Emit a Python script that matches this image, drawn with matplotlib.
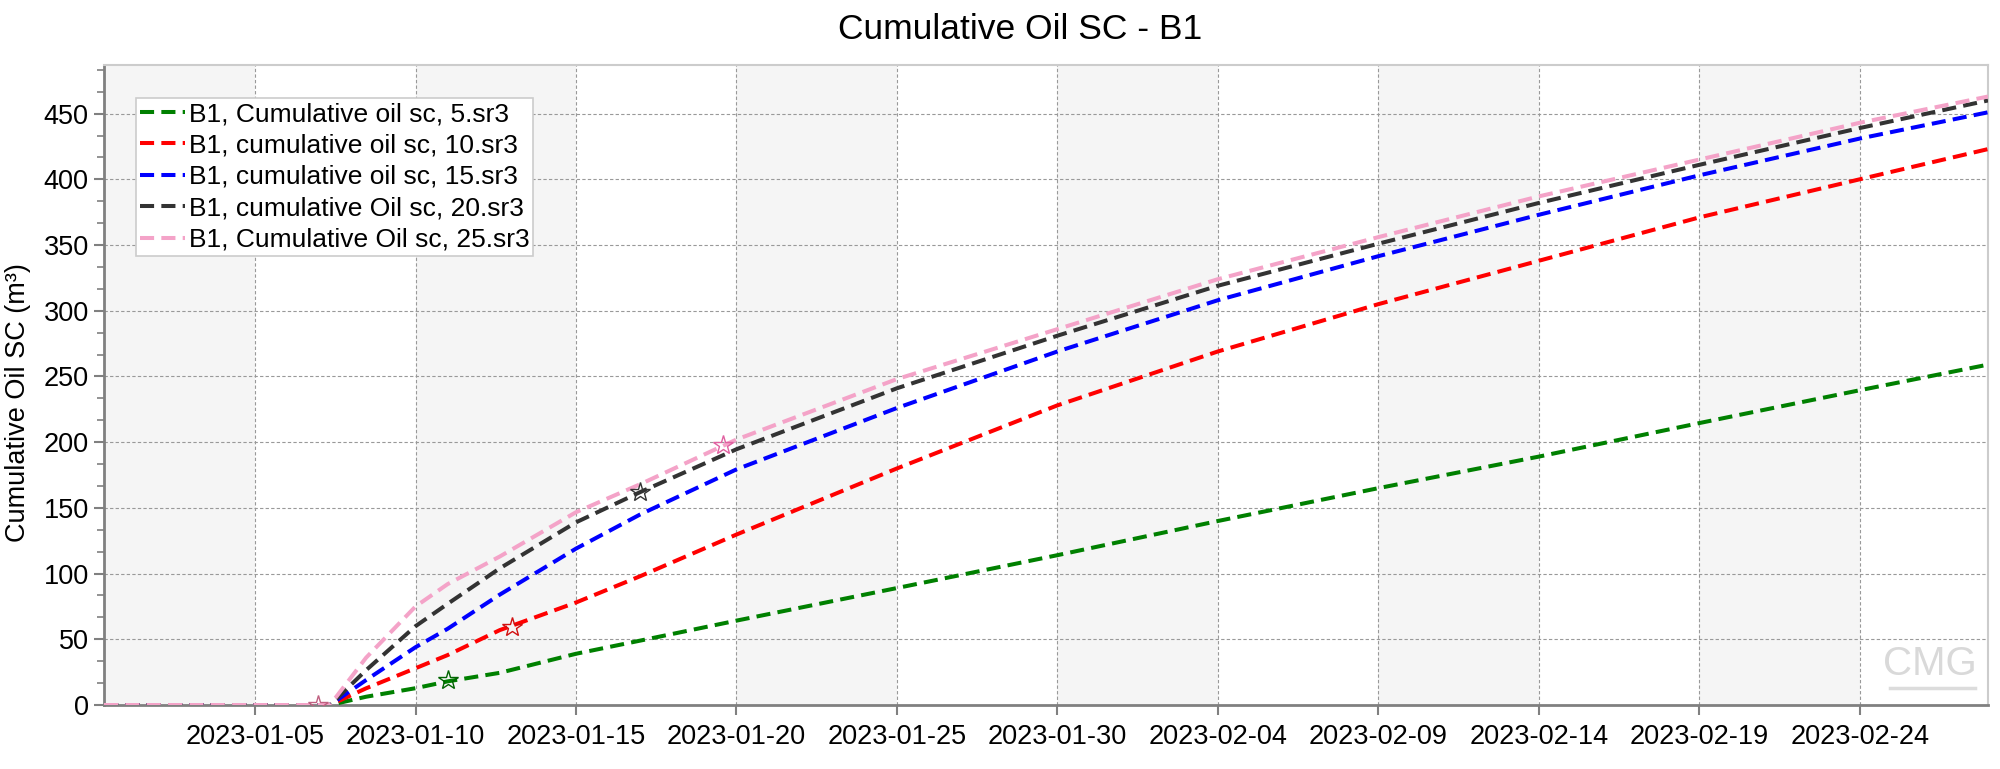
import matplotlib.pyplot as plt
import matplotlib.dates as mdates
import matplotlib.ticker as mticker
import pandas as pd

plt.rcParams['font.family'] = ['Liberation Sans', 'DejaVu Sans']

# shared time axis
dates = ['2022-12-31 07:00', '2023-01-07 08:00', '2023-01-08 11:00', '2023-01-10',
         '2023-01-11', '2023-01-12 15:00', '2023-01-15', '2023-01-17', '2023-01-20',
         '2023-01-25', '2023-01-30', '2023-02-04', '2023-02-09', '2023-02-14',
         '2023-02-19', '2023-02-24', '2023-02-28']

oil_5 = [0, 0, 6.3, 12.8, 18, 24.5, 39, 49, 64.2, 89, 114, 140, 165, 189, 214.5, 239.5, 259]
oil_10 = [0, 0, 12.7, 28, 38, 57, 78, 98, 129.7, 180, 228, 269, 305, 338, 371, 400, 423]
oil_15 = [0, 0, 19, 44, 58, 84, 119, 145, 179.3, 226, 269, 308, 341.5, 373, 403, 431, 451]
oil_20 = [0, 0, 26.5, 60, 77, 104, 139, 162, 194.6, 241, 281, 319, 351, 382, 411, 439, 460]
oil_25 = [0, 0, 36, 75, 92, 113, 146.7, 168, 202, 248, 286, 324, 356, 387, 415, 443, 463]

labels = ['B1, Cumulative oil sc, 5.sr3', 'B1, cumulative oil sc, 10.sr3',
          'B1, cumulative oil sc, 15.sr3', 'B1, cumulative Oil sc, 20.sr3',
          'B1, Cumulative Oil sc, 25.sr3']
colors = ['#008000', '#ff0000', '#0000ff', '#333333', '#f4a3c8']

# star markers (date, value, edge colour)
star_dates = ['2023-01-11', '2023-01-13', '2023-01-06 23:00', '2023-01-17', '2023-01-19 14:00']
star_vals = [19, 59, 0, 162, 198]
star_edge = ['#006400', '#d01010', '#c06080', '#333333', '#e060a0']

# alternating background bands
bands = [('2022-12-31 07:00', '2023-01-05'), ('2023-01-10', '2023-01-15'),
         ('2023-01-20', '2023-01-25'), ('2023-01-30', '2023-02-04'),
         ('2023-02-09', '2023-02-14'), ('2023-02-19', '2023-02-24')]

tick_dates = pd.date_range('2023-01-05', '2023-02-24', freq='5D')

t = pd.to_datetime(dates, format='mixed')

fig = plt.figure(figsize=(20, 7.69), dpi=100)
ax = fig.add_axes([0.052, 0.0832, 0.942, 0.8323])

for a, b in bands:
    ax.axvspan(pd.Timestamp(a), pd.Timestamp(b), color='#f5f5f5', lw=0, zorder=0)

series = [oil_5, oil_10, oil_15, oil_20, oil_25]
for vals, lab, c in zip(series, labels, colors):
    ax.plot(t, vals, color=c, lw=2.9, dashes=(3.5, 1.8), label=lab, zorder=3)

for d, v, ec in zip(star_dates, star_vals, star_edge):
    ax.plot(pd.Timestamp(d), v, marker='*', ms=15, mfc='none', mec=ec, mew=1.0, zorder=4)

ax.set_xlim(pd.Timestamp('2022-12-31 07:00'), pd.Timestamp('2023-02-28'))
ax.set_ylim(0, 487)

ax.xaxis.set_major_locator(mticker.FixedLocator(mdates.date2num(tick_dates)))
ax.xaxis.set_major_formatter(mdates.DateFormatter('%Y-%m-%d'))
ax.yaxis.set_major_locator(mticker.MultipleLocator(50))
ax.yaxis.set_minor_locator(mticker.MultipleLocator(50 / 3))

ax.grid(True, which='major', color='#999999', ls=(0, (3, 2)), lw=0.8, zorder=1)
ax.set_axisbelow(True)

ax.tick_params(axis='both', which='major', labelsize=19.5, length=7, width=1.5,
               color='#808080', direction='out')
ax.tick_params(axis='y', which='minor', length=5, width=1.2, color='#808080')
ax.tick_params(axis='x', pad=7)
ax.tick_params(axis='y', pad=4)

for s in ['top', 'right']:
    ax.spines[s].set_color('#cccccc')
    ax.spines[s].set_linewidth(1.5)
for s in ['left', 'bottom']:
    ax.spines[s].set_color('#808080')
    ax.spines[s].set_linewidth(2)

ax.set_ylabel('Cumulative Oil SC (m³)', fontsize=19.5, va='center')
ax.yaxis.set_label_coords(-0.0456, 0.472)
fig.text(0.51, 0.962, 'Cumulative Oil SC - B1', fontsize=25.5, ha='center', va='center')

leg = ax.legend(loc='upper left', bbox_to_anchor=(0.017, 0.948), fontsize=19,
                handlelength=1.7, handletextpad=0.15, labelspacing=0.28,
                borderpad=0.15, fancybox=False, framealpha=1, edgecolor='#cccccc',
                borderaxespad=0)
leg.get_frame().set_linewidth(1.2)

# watermark
ax.text(0.969, 0.034, 'CMG', transform=ax.transAxes, fontsize=29, color='#d9d9d9',
        ha='center', va='bottom', zorder=2)
ax.plot([0.948, 0.993], [0.027, 0.027], transform=ax.transAxes, color='#dcdcdc', lw=2.5,
        zorder=2)

fig.savefig('out.png', dpi=100)
